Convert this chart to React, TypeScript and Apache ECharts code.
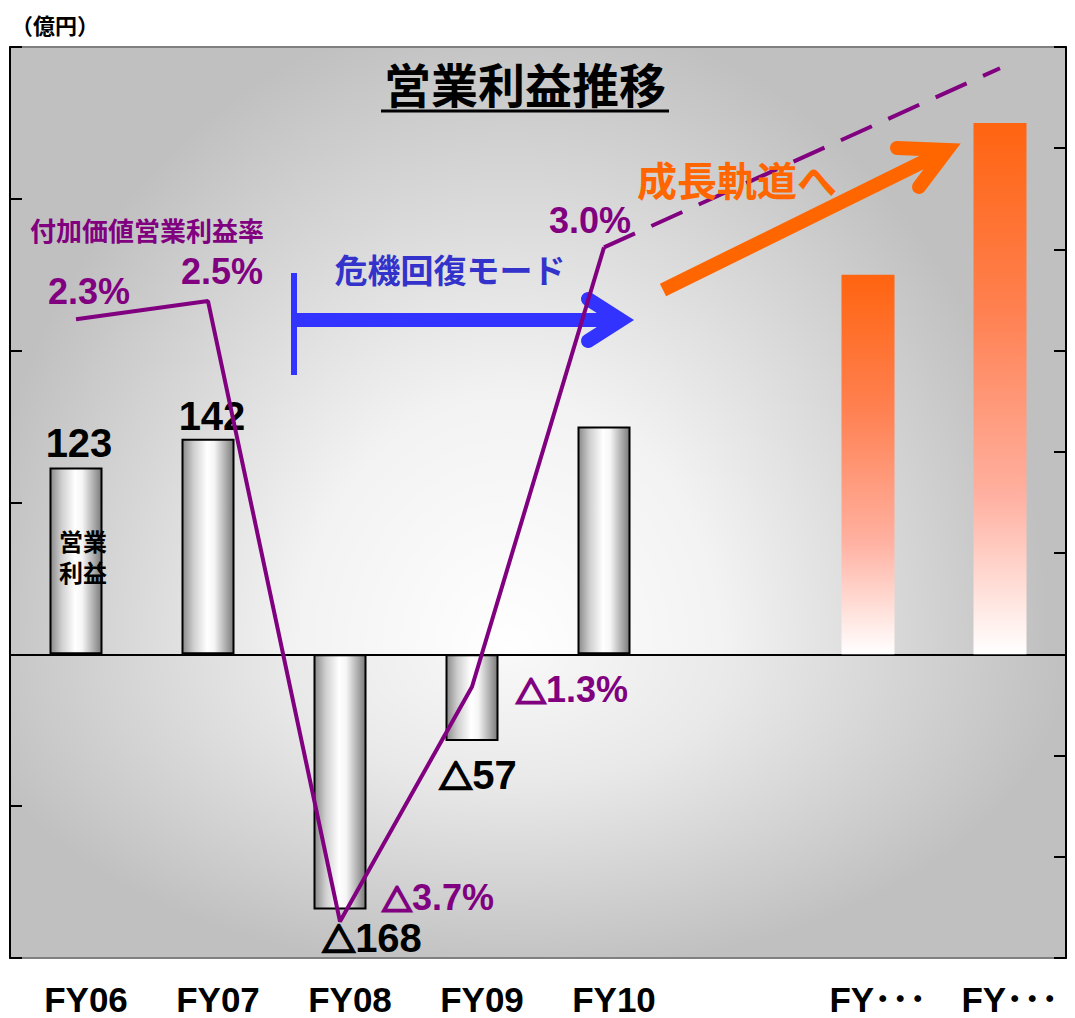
import React, { useEffect, useRef } from "react";
import * as echarts from "echarts";

// ---- data ----
const categories = ["FY06", "FY07", "FY08", "FY09", "FY10", "", "FY･･･", "FY･･･"];
const operatingProfit = [123, 142, -168, -57, 150, null, 250, 350];
const profitLabels = ["123", "142", "△168", "△57", "", "", "", ""];
const isForecast = [false, false, false, false, false, false, true, true];
// value-added operating margin line, read against the unlabeled right axis
const marginLine = [3.31, 3.49, -2.64, -0.32, 4.02, null, null, null];
const marginLabels = ["2.3%", "2.5%", "△3.7%", "△1.3%", "3.0%"];
const marginTrend = [null, null, null, null, 4.02, null, null, 5.79];
const leftAxisRange = { min: -200, max: 400, interval: 100 };
const rightAxisRange = { min: -3, max: 6, interval: 1 };

// ---- styles / layout ----
const FONT = "'Liberation Sans', 'Noto Sans CJK JP', sans-serif";
const CJK = "'Noto Sans CJK JP', sans-serif";
const PURPLE = "#800080";
const barLabelOffsets: number[][] = [[3, 0], [4, 2], [32, 4], [6, 9], [0, 0], [0, 0], [0, 0], [0, 0]];
const marginLabelOffsets: number[][] = [[13, -28], [14, -30], [98, -24], [100, 3], [-14, -27]];

const triRich = (color: string, size: number) => ({
  t: {
    fontSize: size,
    color,
    fontWeight: "bold",
    fontFamily: CJK,
    textBorderColor: color,
    textBorderWidth: 2.5,
  },
});
const withTri = (s: string) => s.replace("△", "{t|△}");

export default function App() {
  const ref = useRef<HTMLDivElement>(null);
  useEffect(() => {
    if (!ref.current) return;
    const chart = echarts.init(ref.current, null, { renderer: "svg" });

    const histColor = new echarts.graphic.LinearGradient(0, 0, 1, 0, [
      { offset: 0, color: "#8a8a8a" },
      { offset: 0.22, color: "#cfcfcf" },
      { offset: 0.48, color: "#ffffff" },
      { offset: 0.62, color: "#f6f6f6" },
      { offset: 0.85, color: "#acacac" },
      { offset: 1, color: "#7a7a7a" },
    ]);
    const fcColor = new echarts.graphic.LinearGradient(0, 0, 0, 1, [
      { offset: 0, color: "#FF6410" },
      { offset: 0.35, color: "#FF8050" },
      { offset: 0.7, color: "#FFB0A0" },
      { offset: 1, color: "#FFFFFF" },
    ]);

    const barData = operatingProfit.map((v, i) => {
      if (v == null) return null;
      return {
        value: v,
        itemStyle: isForecast[i]
          ? { color: fcColor, borderWidth: 0 }
          : { color: histColor, borderColor: "#000", borderWidth: 2 },
        label: {
          show: profitLabels[i] !== "",
          formatter: withTri(profitLabels[i]),
          offset: barLabelOffsets[i],
        },
      };
    });

    const lineData = marginLine.map((v, i) => {
      if (v == null) return null;
      return {
        value: v,
        label: { show: true, formatter: withTri(marginLabels[i]), offset: marginLabelOffsets[i] },
      };
    });

    const upperGlow = new echarts.graphic.RadialGradient(0.5, 1, 0.5, [
      { offset: 0, color: "rgba(255,255,255,1)" },
      { offset: 0.4, color: "rgba(255,255,255,0.8)" },
      { offset: 1, color: "rgba(255,255,255,0)" },
    ]);
    const lowerGlow = new echarts.graphic.RadialGradient(0.5, 0, 0.5, [
      { offset: 0, color: "rgba(255,255,255,0.9)" },
      { offset: 0.4, color: "rgba(255,255,255,0.65)" },
      { offset: 1, color: "rgba(255,255,255,0)" },
    ]);

    const txt = (x: number, y: number, text: string, size: number, color: string, family = FONT) => ({
      type: "text",
      x,
      y,
      z: 100,
      style: {
        text,
        fill: color,
        fontSize: size,
        fontWeight: "bold",
        fontFamily: family,
        align: "center",
        verticalAlign: "middle",
        textAlign: "center",
        textVerticalAlign: "middle",
      },
    });

    const option: any = {
      animation: false,
      grid: {
        left: 10,
        right: 9,
        top: 47,
        bottom: 60,
        show: true,
        borderColor: "#808080",
        borderWidth: 2,
        backgroundColor: "transparent",
      },
      xAxis: [
        {
          type: "category",
          data: categories,
          position: "bottom",
          axisLine: { show: false, onZero: false },
          axisTick: { show: false },
          axisLabel: {
            interval: 0,
            fontSize: 35,
            fontWeight: "bold",
            color: "#000",
            fontFamily: FONT,
            margin: 24,
            padding: [0, 0, 0, 20],
          },
          splitLine: { show: false },
        },
        {
          type: "category",
          data: categories,
          position: "top",
          axisLine: { show: true, onZero: true, onZeroAxisIndex: 0, lineStyle: { color: "#000", width: 2 } },
          axisTick: { show: false },
          axisLabel: { show: false },
          splitLine: { show: false },
        },
      ],
      yAxis: [
        {
          type: "value",
          position: "left",
          ...leftAxisRange,
          axisLine: { show: true, lineStyle: { color: "#000", width: 2 } },
          axisTick: { show: true, inside: true, length: 12, lineStyle: { color: "#000", width: 2 } },
          axisLabel: { show: false },
          splitLine: { show: false },
        },
        {
          type: "value",
          position: "right",
          ...rightAxisRange,
          axisLine: { show: true, lineStyle: { color: "#000", width: 2 } },
          axisTick: { show: true, inside: true, length: 12, lineStyle: { color: "#000", width: 2 } },
          axisLabel: { show: false },
          splitLine: { show: false },
        },
      ],
      series: [
        {
          type: "bar",
          xAxisIndex: 0,
          yAxisIndex: 0,
          barWidth: 53,
          data: barData,
          label: {
            show: true,
            position: "outside",
            color: "#000",
            fontSize: 40,
            fontWeight: "bold",
            fontFamily: FONT,
            rich: triRich("#000", 33),
          },
          markPoint: {
            symbol: "circle",
            symbolSize: 1,
            itemStyle: { color: "rgba(0,0,0,0)" },
            label: {
              show: true,
              position: "inside",
              formatter: "営業\n利益",
              color: "#000",
              fontSize: 24,
              lineHeight: 31,
              fontWeight: "bold",
              fontFamily: FONT,
              offset: [7, 0],
            },
            data: [{ coord: [categories[0], 63.5] }],
          },
        },
        {
          type: "line",
          xAxisIndex: 0,
          yAxisIndex: 1,
          data: lineData,
          symbol: "circle",
          symbolSize: 1,
          itemStyle: { color: "rgba(0,0,0,0)" },
          lineStyle: { color: PURPLE, width: 4 },
          label: {
            show: true,
            position: "inside",
            color: PURPLE,
            fontSize: 36,
            fontWeight: "bold",
            fontFamily: FONT,
            rich: triRich(PURPLE, 30),
          },
          z: 3,
        },
        {
          type: "line",
          xAxisIndex: 0,
          yAxisIndex: 1,
          data: marginTrend,
          connectNulls: true,
          symbol: "none",
          lineStyle: { color: PURPLE, width: 4, type: [34, 18] },
          z: 3,
        },
      ],
      graphic: [
        { type: "rect", z: -10, shape: { x: 10, y: 47, width: 1056, height: 911 }, style: { fill: "#c0c0c0" } },
        { type: "rect", z: -9, shape: { x: -30, y: -645, width: 1080, height: 1300 }, style: { fill: upperGlow } },
        { type: "rect", z: -9, shape: { x: -50, y: 655, width: 1120, height: 640 }, style: { fill: lowerGlow } },
        txt(55, 24, "（億円）", 22, "#000", CJK),
        txt(525, 86, "営業利益推移", 47, "#000"),
        { type: "line", z: 100, shape: { x1: 381, y1: 111, x2: 669, y2: 111 }, style: { stroke: "#000", lineWidth: 3 } },
        txt(147, 232, "付加価値営業利益率", 26, PURPLE),
        txt(450, 271, "危機回復モード", 33, "#3333CC"),
        txt(737, 182, "成長軌道へ", 40, "#FF6600"),
        // blue arrow
        { type: "line", z: 1, shape: { x1: 294, y1: 273, x2: 294, y2: 375 }, style: { stroke: "#3333FF", lineWidth: 6 } },
        { type: "line", z: 1, shape: { x1: 294, y1: 320, x2: 622, y2: 320 }, style: { stroke: "#3333FF", lineWidth: 14 } },
        {
          type: "polyline",
          z: 1,
          shape: { points: [[588, 299], [621, 320], [588, 341]] },
          style: { stroke: "#3333FF", lineWidth: 14, lineCap: "round", lineJoin: "miter", fill: null },
        },
        // orange arrow
        { type: "line", z: 1, shape: { x1: 663, y1: 290, x2: 947, y2: 150 }, style: { stroke: "#FF6600", lineWidth: 14 } },
        {
          type: "polyline",
          z: 1,
          shape: { points: [[897, 148], [947, 150], [919, 187]] },
          style: { stroke: "#FF6600", lineWidth: 14, lineCap: "round", lineJoin: "miter", fill: null },
        },
      ],
    };

    chart.setOption(option);
    return () => chart.dispose();
  }, []);

  return (
    <div
      ref={ref}
      style={{ position: "absolute", left: 0, top: 0, width: 1075, height: 1018, background: "#fff" }}
    />
  );
}
